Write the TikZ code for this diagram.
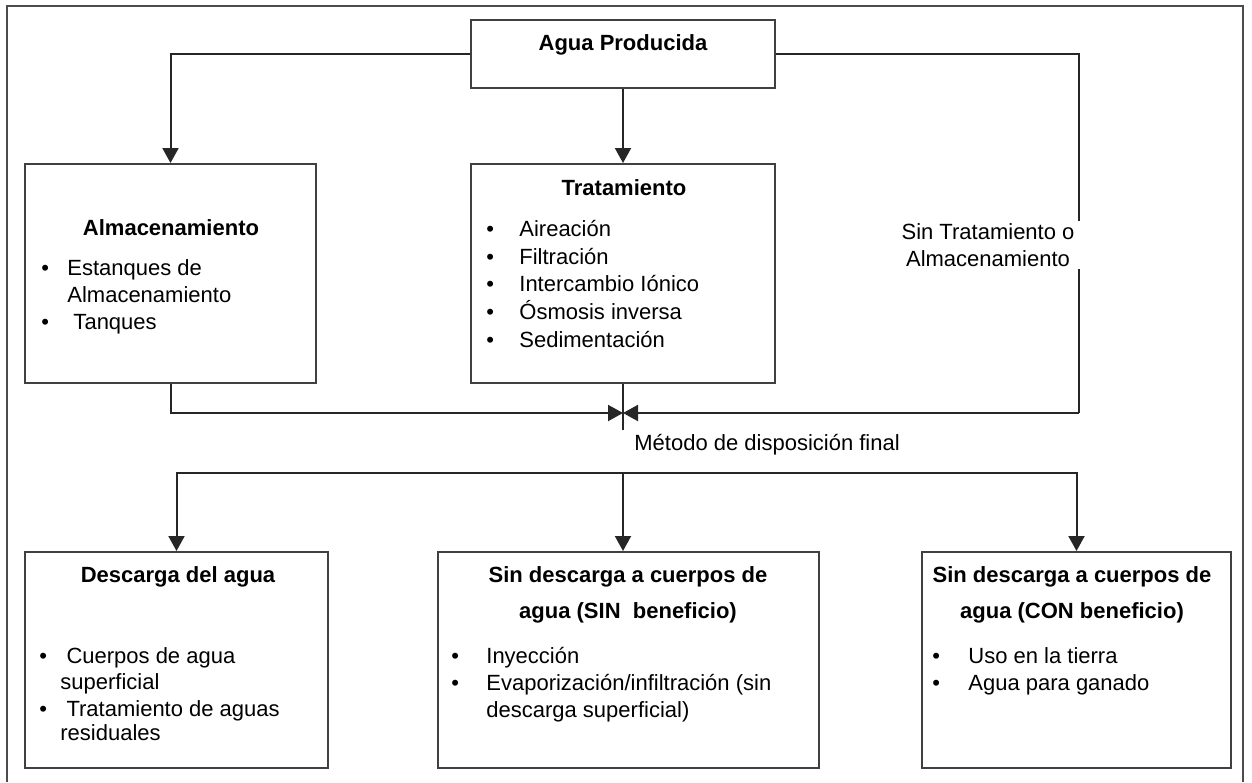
\documentclass[tikz,border=0pt]{standalone}
\usepackage{fontspec}
\setmainfont{Liberation Sans}
\usetikzlibrary{arrows.meta,positioning}
\newcommand{\blt}[1]{\makebox[#1][l]{\textbullet}}% bullet in a box of given width

\begin{document}
\begin{tikzpicture}
    [x=0.5pt,y=-0.5pt,
     font=\fontsize{11}{13.5}\selectfont,
     box/.style={draw=black!75,line width=1pt,inner sep=0pt},
     conn/.style={draw=black!85,line width=1pt},
     arr/.style={conn,-{Triangle[length=7.5pt,width=8pt]}},
     head/.style={font=\fontsize{11}{13.5}\selectfont\bfseries,inner sep=0pt},
     item/.style={anchor=base west,inner sep=0pt}]

    % frame
    \draw[black!70,line width=0.8pt] (7,782) -- (7,6) -- (1243,6) -- (1243,782);

    \node[box,minimum width=152pt,minimum height=34pt] (prod) at (623,54) {};
    \node[head] (prodtitle) at (623,45) {Agua Producida};

    \node[box,minimum width=145.5pt,minimum height=109.5pt] (alm) at (170.5,273.5) {};
    \node[head] (almtitle) at (171,228) {Almacenamiento};
    \node[item] (alm1) at (41,275) {\blt{13pt}Estanques de};
    \node[item] (alm2) at (41,302) {\hspace*{13pt}Almacenamiento};
    \node[item] (alm3) at (41,329) {\blt{13pt}\ Tanques};

    \node[box,minimum width=152pt,minimum height=109.5pt] (trat) at (623,273.5) {};
    \node[head] (trattitle) at (624,188) {Tratamiento};
    \node[item] (trat1) at (486,236) {\blt{16.5pt}Aireación};
    \node[item] (trat2) at (486,264) {\blt{16.5pt}Filtración};
    \node[item] (trat3) at (486,291) {\blt{16.5pt}Intercambio Iónico};
    \node[item] (trat4) at (486,319) {\blt{16.5pt}Ósmosis inversa};
    \node[item] (trat5) at (486,347) {\blt{16.5pt}Sedimentación};

    \node[box,minimum width=151.5pt,minimum height=108pt] (desc) at (176.5,660) {};
    \node[head] (desctitle) at (178,577) {Descarga del agua};
    \node[item] (desc1) at (39,663) {\blt{10.5pt}\ Cuerpos de agua};
    \node[item] (desc2) at (39,689) {\hspace*{10.5pt}superficial};
    \node[item] (desc3) at (39,716) {\blt{10.5pt}\ Tratamiento de aguas};
    \node[item] (desc4) at (39,740) {\hspace*{10.5pt}residuales};

    \node[box,minimum width=190.5pt,minimum height=108pt] (sinb) at (628.5,660) {};
    \node[head,align=center] (sinbtitle) at (628,595) {Sin descarga a cuerpos de\\[4.5pt]agua (SIN~~beneficio)};
    \node[item] (sinb1) at (451,663) {\blt{17.5pt}Inyección};
    \node[item] (sinb2) at (451,690) {\blt{17.5pt}Evaporización/infiltración (sin};
    \node[item] (sinb3) at (451,717) {\hspace*{17.5pt}descarga superficial)};

    \node[box,minimum width=154.5pt,minimum height=108pt] (conb) at (1076.5,660) {};
    \node[head,align=center] (conbtitle) at (1072,595) {Sin descarga a cuerpos de\\[4.5pt]agua (CON beneficio)};
    \node[item] (conb1) at (932,663) {\blt{18pt}Uso en la tierra};
    \node[item] (conb2) at (932,690) {\blt{18pt}Agua para ganado};

    \coordinate (merge) at (623,413);
    \coordinate (rt) at (1079,413);
    \coordinate (tratend) at (623,430);
    \coordinate (split) at (623,473);

    % upper half
    \draw[arr] (prod.west) -| (alm.north);
    \draw[arr] (prod.south) -- (trat.north);
    \draw[conn] (prod.east) -| (rt);
    \draw[arr] (rt) -- (merge);
    \draw[arr] (alm.south) |- (merge);
    \draw[conn] (trat.south) -- (tratend);
    \node[fill=white,align=center,inner xsep=4pt,inner ysep=1pt] (sinlbl) at (988,245) {Sin Tratamiento o\\Almacenamiento};

    \node[anchor=west,inner sep=0pt] (metodo) at (634,445) {Método de disposición final};

    % lower half
    \draw[arr] (split) -| (desc.north);
    \draw[arr] (split) -| (conb.north);
    \draw[arr] (split) -- (split |- sinb.north);

    \pgfresetboundingbox
    \useasboundingbox (0,0) rectangle (1252,782);
\end{tikzpicture}
\end{document}
